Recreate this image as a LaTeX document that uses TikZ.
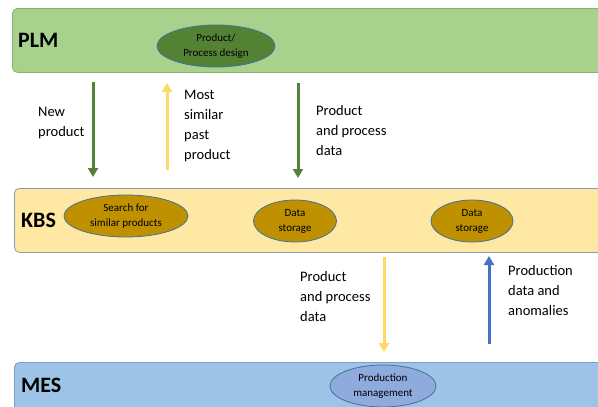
\documentclass[tikz,border=0pt]{standalone}
\usepackage{fontspec}
\setmainfont{Carlito}
\usetikzlibrary{shapes.geometric,arrows.meta}

\definecolor{plmfill}{HTML}{A9D18E}
\definecolor{plmline}{HTML}{86B36A}
\definecolor{kbsfill}{HTML}{FFE8A3}
\definecolor{kbsline}{HTML}{8C9CB8}
\definecolor{mesfill}{HTML}{9DC3E6}
\definecolor{mesline}{HTML}{7C9DC8}
\definecolor{darkgreen}{HTML}{548235}
\definecolor{gold}{HTML}{BF9000}
\definecolor{lightyellow}{HTML}{FFD966}
\definecolor{midblue}{HTML}{4472C4}
\definecolor{ellblue}{HTML}{8FAADC}
\definecolor{ellline}{HTML}{41719C}

\begin{document}
\begin{tikzpicture}[x=1pt,y=-1pt,
  band/.style = {draw, rounded corners=5pt, line width=0.8pt,
    minimum width=620pt, minimum height=64pt, anchor=north west},
  title/.style = {anchor=west, inner sep=0pt,
    font=\fontsize{22}{26}\selectfont\bfseries},
  task/.style = {ellipse, draw=ellline, line width=0.8pt, inner sep=0pt,
    align=center, font=\fontsize{11}{15}\selectfont},
  note/.style = {anchor=west, align=left, inner sep=0pt,
    font=\fontsize{14.5}{20}\selectfont},
  flow/.style = {line width=3pt, -{Triangle[width=10pt,length=9pt]}}]
  \useasboundingbox (0,0) rectangle (598,407);

  % layers
  \node[band, fill=plmfill, draw=plmline] (plm) at (12,8) {};
  \node[band, fill=kbsfill, draw=kbsline] (kbs) at (14,188) {};
  \node[band, fill=mesfill, draw=mesline] (mes) at (14,362) {};
  \node[title] (plmtitle) at (18,40) {PLM};
  \node[title] (kbstitle) at (21,220) {KBS};
  \node[title] (mestitle) at (21,385) {MES};

  % functions
  \node[task, fill=darkgreen, minimum width=118pt, minimum height=42pt]
    (design) at (216,46) {Product/\\Process design};
  \node[task, fill=gold, minimum width=124pt, minimum height=42pt]
    (search) at (126,216) {Search for\\similar products};
  \node[task, fill=gold, minimum width=83pt, minimum height=42pt]
    (store1) at (295,221) {Data\\storage};
  \node[task, fill=gold, minimum width=82pt, minimum height=42pt]
    (store2) at (472,221) {Data\\storage};
  \node[task, fill=ellblue, minimum width=106pt, minimum height=42pt]
    (prodman) at (383,386) {Production\\management};

  % exchanges
  \coordinate (newtop) at (93,82);   \coordinate (newbot) at (93,177);
  \coordinate (pastbot) at (167,170); \coordinate (pasttop) at (167,83);
  \coordinate (datatop) at (298,83);  \coordinate (databot) at (298,178);
  \coordinate (downtop) at (384,257); \coordinate (downbot) at (384,352);
  \coordinate (upbot) at (489,344);   \coordinate (uptop) at (489,256);
  \draw[flow, darkgreen] (newtop) -- (newbot);
  \draw[flow, lightyellow] (pastbot) -- (pasttop);
  \draw[flow, darkgreen] (datatop) -- (databot);
  \draw[flow, lightyellow] (downtop) -- (downbot);
  \draw[flow, midblue] (upbot) -- (uptop);

  \node[note] (newlbl) at (38,123) {New\\product};
  \node[note] (pastlbl) at (184,126) {Most\\similar\\past\\product};
  \node[note] (datalbl) at (316,131) {Product\\and process\\data};
  \node[note] (downlbl) at (300,297) {Product\\and process\\data};
  \node[note] (uplbl) at (508,291) {Production\\data and\\anomalies};
\end{tikzpicture}
\end{document}
